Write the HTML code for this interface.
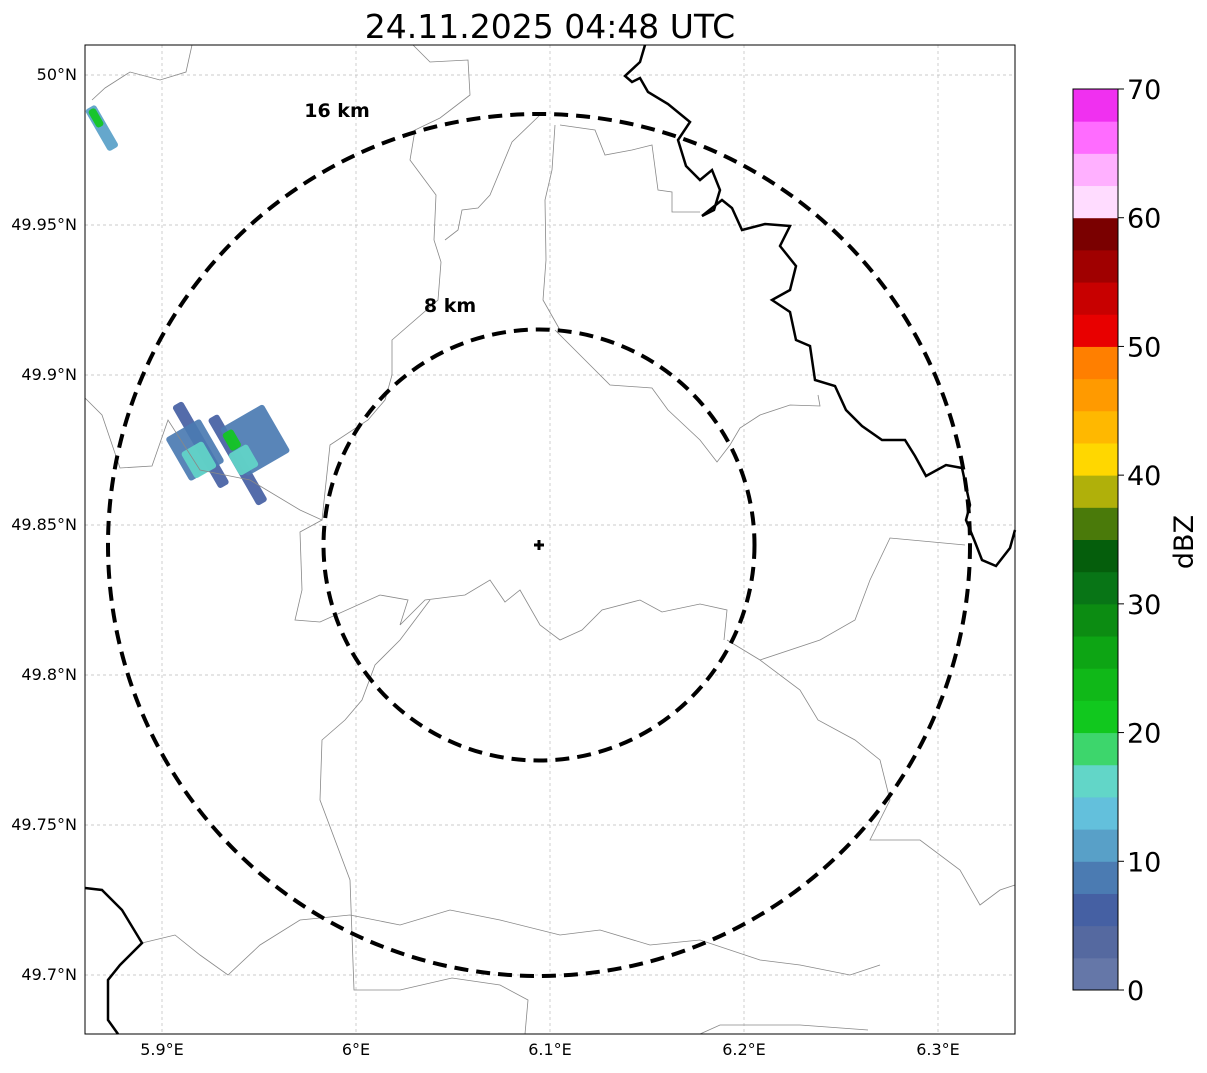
<!DOCTYPE html>
<html><head><meta charset="utf-8"><style>
body{margin:0;background:#fff;font-family:"DejaVu Sans",sans-serif}
svg text{font-family:"DejaVu Sans","Liberation Sans",sans-serif}
</style></head><body>
<svg id="c" width="1207" height="1069" viewBox="0 0 1207 1069">
<text x="550" y="38" font-size="33" text-anchor="middle">24.11.2025 04:48 UTC</text>
<g id="grid"></g>
<g id="radar"></g>
<g fill="none" stroke="#888" stroke-width="0.8">
<path d="M192,45 L186,72 L160,80 L130,72 L105,88 L92,100"/>
<path d="M413,45 L430,62 L468,60 L470,95 L440,118 L415,130 L410,160 L436,195 L434,240 L441,262 L438,300 L392,340 L392,375 L385,400 L368,420 L330,445 L322,520"/>
<path d="M85,398 L102,415 L120,468 L152,466 L168,420 L200,470 L250,480 L300,510 L322,520 L300,532 L302,590 L295,620 L320,622 L380,595 L408,600 L400,625 L425,600 L465,595 L490,580 L505,602 L520,590 L540,625 L560,640 L582,630 L602,610 L640,600 L662,612 L700,604 L727,610 L724,640"/>
<path d="M540,115 L512,142 L490,195 L478,208 L462,210 L458,230 L445,240"/>
<path d="M555,125 L552,170 L545,200 L546,260 L543,300 L560,330"/>
<path d="M560,125 L595,130 L605,155 L632,150 L652,145 L658,190 L672,192 L672,212 L700,212"/>
<path d="M555,330 L590,365 L610,385 L652,388 L668,410 L700,440 L717,462 L730,445 L740,428 L760,415 L790,405 L820,406 L818,395"/>
<path d="M430,600 L400,640 L375,665 L362,700 L345,720 L322,740 L320,800 L350,880 L354,990 L400,990 L452,978 L500,985 L528,1000 L525,1034"/>
<path d="M727,640 L760,660 L800,690 L818,720 L855,740 L880,760 L890,800 L870,840 L920,840 L960,870 L980,905 L1000,890 L1015,885"/>
<path d="M965,545 L890,538 L870,580 L855,620 L820,640 L760,660"/>
<path d="M142,943 L175,935 L200,955 L228,975 L260,945 L300,920 L350,915 L400,925 L450,910 L500,920 L560,935 L600,930 L650,945 L700,940 L760,960 L800,965 L850,975 L880,965"/>
<path d="M700,1034 L720,1025 L800,1025 L868,1030"/>
</g>
<g fill="none" stroke="#000" stroke-width="2.5">
<path d="M645,45 L640,62 L625,76 L632,82 L640,78 L648,92 L668,104 L690,122 L678,140 L686,166 L700,180 L712,170 L720,190 L714,210 L702,216 L722,200 L732,208 L742,230 L765,224 L790,226 L780,246 L796,266 L790,290 L772,300 L790,312 L796,340 L810,346 L815,380 L835,386 L846,410 L862,426 L882,440 L905,440 L915,456 L926,476 L946,465 L962,468 L970,505 L966,520 L975,542 L982,560 L996,566 L1010,548 L1015,530"/>
<path d="M85,888 L102,890 L122,910 L142,943 L120,965 L108,980 L108,1020 L118,1034"/>
</g>
<g id="rings" fill="none" stroke="#000" stroke-width="4" stroke-dasharray="14,8"></g>
<text x="337" y="117" font-size="19" font-weight="bold" text-anchor="middle">16 km</text>
<text x="450" y="312" font-size="19" font-weight="bold" text-anchor="middle">8 km</text>
<g stroke="#000" stroke-width="3"><line x1="534" y1="545" x2="544" y2="545"/><line x1="539" y1="540" x2="539" y2="550"/></g>
<rect x="85" y="45" width="930" height="989" fill="none" stroke="#000" stroke-width="1"/>
<g id="ticks" font-size="16"></g>
<g id="cbar"></g>
<text transform="translate(1193,542) rotate(-90)" font-size="27" text-anchor="middle">dBZ</text>
</svg>
<script>
const lonTicks=[5.9,6.0,6.1,6.2,6.3];
const lonLabels=["5.9°E","6°E","6.1°E","6.2°E","6.3°E"];
const latTicks=[50,49.95,49.9,49.85,49.8,49.75,49.7];
const latLabels=["50°N","49.95°N","49.9°N","49.85°N","49.8°N","49.75°N","49.7°N"];
const ringKm=[8,16];
const cbarTicks=[0,10,20,30,40,50,60,70];
const cbarColors=["#6577a8","#5569a0","#4560a3","#4b7bb2","#58a0c8","#63c0dc","#62d6c8","#3dd66c","#11c81e","#10b818","#0da514","#0c8c12","#087516","#055e0c","#4a7a0a","#b0b00a","#ffd700","#ffb800","#ff9a00","#ff7f00","#e80000","#c80000","#a00000","#7a0000","#ffdcff","#ffb0ff","#ff6cff","#f030f0"];
const blobLon=[5.92,5.917,5.919,5.939,5.948,5.936,5.942,5.869,5.866];
const blobLat=[49.8767,49.875,49.8717,49.8717,49.8783,49.8783,49.8717,49.9823,49.9857];
const blobLen=[95,50,30,100,55,20,25,48,20];
const blobWid=[12,40,25,12,50,12,22,12,8];
const blobDbz=[5,9,16,5,9,21,15,12,22];
const NS="http://www.w3.org/2000/svg";
const X=lon=>162+(lon-5.9)*1940;
const Y=lat=>75+(50-lat)*3000;
const kmPx=431/16;
function mk(t,a,p){const e=document.createElementNS(NS,t);for(const k in a)e.setAttribute(k,a[k]);p.appendChild(e);return e;}
const grid=document.getElementById('grid'),ticks=document.getElementById('ticks');
lonTicks.forEach((v,i)=>{const x=X(v);
 const l=mk('line',{x1:x,x2:x,y1:45,y2:1034,stroke:'#bbb','stroke-width':0.7,'stroke-dasharray':'3,3'},grid);
 
 const t=mk('text',{x:x,y:1055,'text-anchor':'middle'},ticks);t.textContent=lonLabels[i];
 });
latTicks.forEach((v,i)=>{const y=Y(v);
 const l=mk('line',{x1:85,x2:1015,y1:y,y2:y,stroke:'#bbb','stroke-width':0.7,'stroke-dasharray':'3,3'},grid);
 
 const t=mk('text',{x:77,y:y+5,'text-anchor':'end'},ticks);t.textContent=latLabels[i];
 });
const rings=document.getElementById('rings');
ringKm.forEach(k=>{const c=mk('circle',{cx:539,cy:545,r:k*kmPx},rings);
 });
const cb=document.getElementById('cbar');const cy0=990,cy1=89,vmax=70;
const CY=v=>cy0-(v/vmax)*(cy0-cy1);
const bw=vmax/cbarColors.length;
cbarColors.forEach((c,i)=>{const y1=CY((i+1)*bw),y0=CY(i*bw);
 const r=mk('rect',{x:1073,y:y1,width:45,height:y0-y1+0.5,fill:c},cb);
 });
mk('rect',{x:1073,y:cy1,width:45,height:cy0-cy1,fill:'none',stroke:'#000','stroke-width':1},cb);
cbarTicks.forEach(v=>{const y=CY(v);
 mk('line',{x1:1118,x2:1124,y1:y,y2:y,stroke:'#000'},cb);
 const t=mk('text',{x:1127,y:y+10,'font-size':27},cb);t.textContent=v;
 });
const rad=document.getElementById('radar');
function col(d){return cbarColors[Math.max(0,Math.min(cbarColors.length-1,Math.floor(d/bw)))];}
blobLon.forEach((lo,i)=>{const x=X(lo),y=Y(blobLat[i]);
 const r=mk('rect',{x:x-blobWid[i]/2,y:y-blobLen[i]/2,width:blobWid[i],height:blobLen[i],rx:3,fill:col(blobDbz[i]),opacity:0.92,transform:`rotate(-30 ${x} ${y})`},rad);
 });
</script>
</body></html>
